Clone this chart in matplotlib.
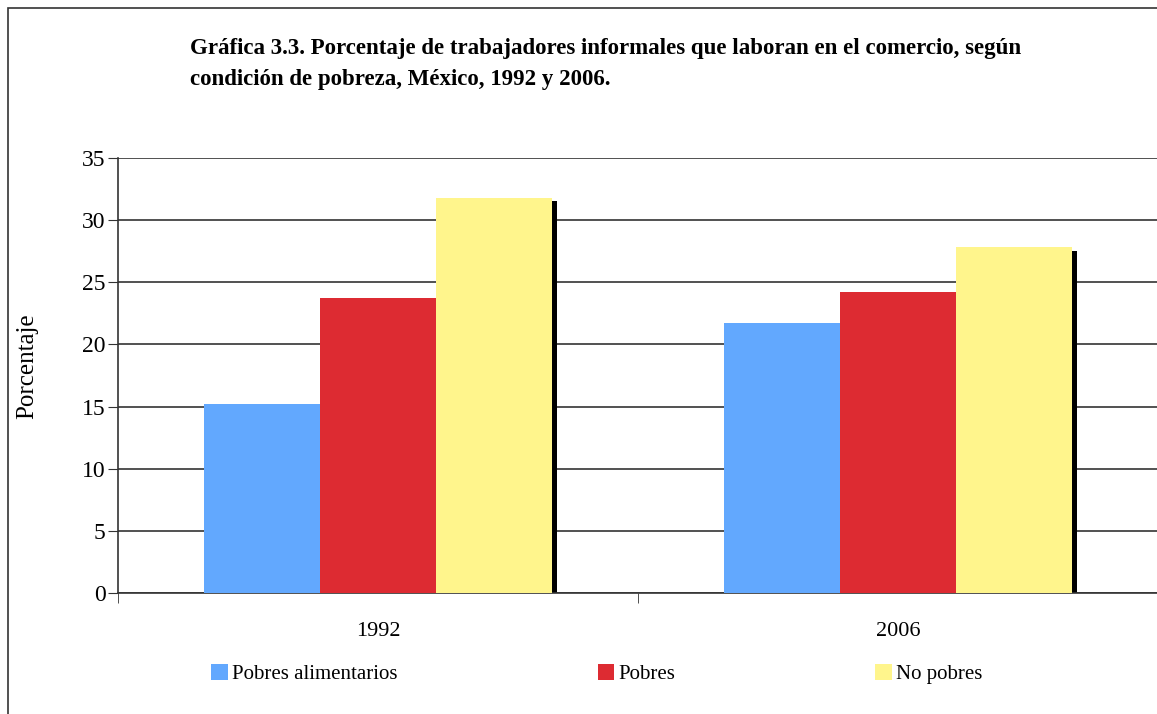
import numpy as np
import matplotlib.pyplot as plt
from matplotlib.patches import Rectangle

years = ['1992', '2006']
series = ['Pobres alimentarios', 'Pobres', 'No pobres']
pobres_alim = [15.2, 21.7]
pobres = [23.7, 24.2]
no_pobres = [31.8, 27.8]
colors = ['#62a8fe', '#dd2b32', '#fff58c']

plt.rcParams['font.family'] = ['Liberation Serif', 'DejaVu Serif']

fig = plt.figure(figsize=(11.57, 7.14), dpi=100)
fig.patches.append(Rectangle((8 / 1157, -0.01), 1.2, (714 - 8) / 714 + 0.01,
                             transform=fig.transFigure, fill=False,
                             edgecolor='#333333', linewidth=1.2))

ax = fig.add_axes([118 / 1157, (714 - 593) / 714, 1040 / 1157, 435 / 714])

x = np.arange(len(years))
w = 0.223
vals = [pobres_alim, pobres, no_pobres]

# sombra negra detras de la barra amarilla
dx = 5 / 520
ax.bar(x + w + dx, [v - 0.25 for v in no_pobres], w, color='black', zorder=2)

for i, (v, c, s) in enumerate(zip(vals, colors, series)):
    ax.bar(x + (i - 1) * w, v, w, color=c, label=s, zorder=3)

ax.set_xlim(-0.5, 1.5)
ax.set_ylim(0, 35)
ax.set_yticks(range(0, 36, 5))
ax.yaxis.grid(True, color='#333333', linewidth=1.2, zorder=0)
ax.set_axisbelow(True)
ax.set_xticks(x)
ax.set_xticklabels(years)
ax.set_xticks([-0.5, 0.5, 1.5], minor=True)
ax.tick_params(axis='x', which='major', length=0, pad=21, labelsize=16)
ax.tick_params(axis='x', which='minor', length=7, color='#333333')
ax.tick_params(axis='y', length=7, color='#333333', labelsize=17, pad=2)
for side in ['top', 'right']:
    ax.spines[side].set_visible(False)
for side in ['left', 'bottom']:
    ax.spines[side].set_color('#333333')
    ax.spines[side].set_linewidth(1.2)
ax.set_ylabel('Porcentaje', fontsize=18)
ax.yaxis.set_label_coords(-0.077, 0.522)

fig.text(190 / 1157, 1 - 38 / 714,
         'Gráfica 3.3. Porcentaje de trabajadores informales que laboran en el comercio, según\ncondición de pobreza, México, 1992 y 2006.',
         fontsize=16.5, fontweight='bold', va='top', ha='left', linespacing=1.6)

fig.legend(loc='center left', bbox_to_anchor=(203 / 1157, 1 - 674 / 714), ncol=3,
           frameon=False, fontsize=15, handlelength=0.8, handleheight=0.8,
           handletextpad=0.2, columnspacing=9.6, borderaxespad=0)

fig.savefig('out.png', dpi=100)
